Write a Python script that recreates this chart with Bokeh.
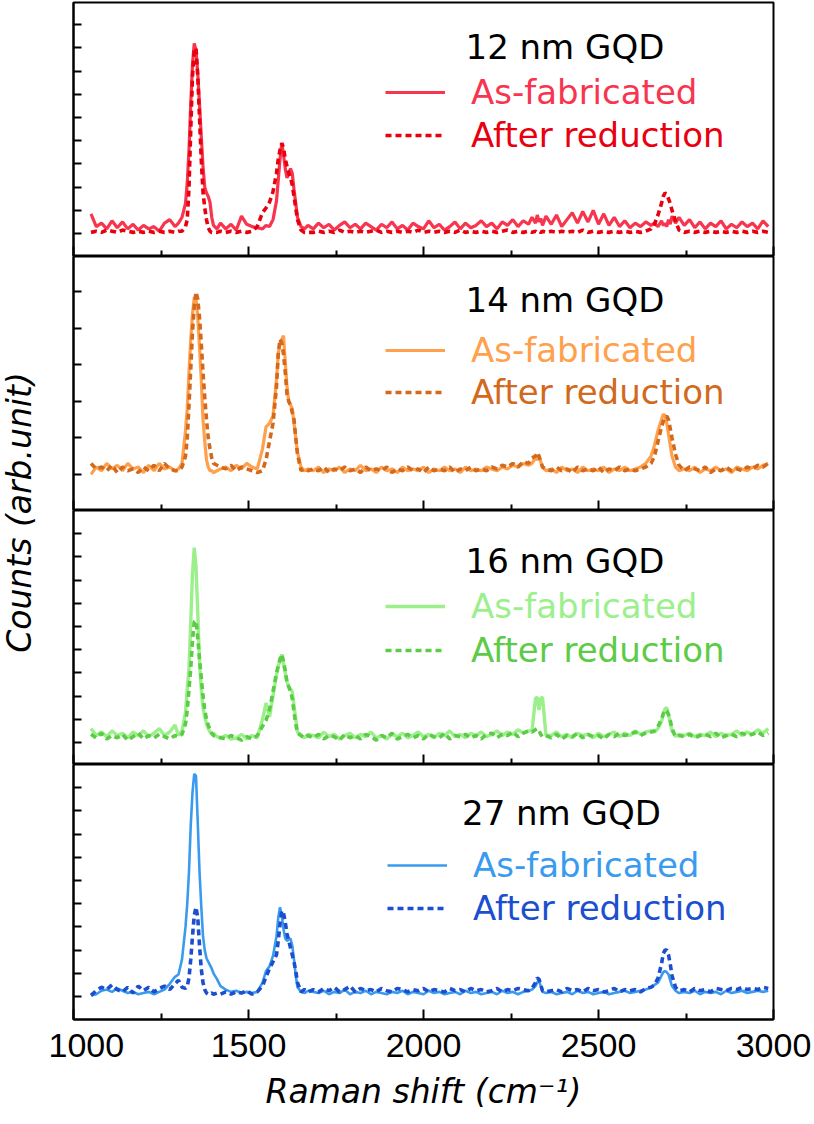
import math
from bokeh.plotting import figure
from bokeh.models import (Range1d, FixedTicker, Label, Legend, LegendItem, ColumnDataSource,
                          CustomLabelingPolicy)
from bokeh.layouts import row, column
from bokeh.embed import file_html
from bokeh.resources import INLINE

# ---------------- data ----------------
raman_shift = [
    1050, 1065, 1080, 1095, 1110, 1125, 1140, 1155, 1170, 1185, 1200, 1215, 1230, 1245, 1260, 1275, 1290,
    1300, 1310, 1320, 1325, 1330, 1335, 1340, 1345, 1350, 1355, 1360, 1365, 1370, 1375, 1380, 1385, 1390, 1395, 1400, 1410, 1420,
    1435, 1450, 1465, 1480, 1495, 1510, 1525,
    1540, 1550, 1560, 1570, 1580, 1585, 1590, 1595, 1600, 1605, 1610, 1615, 1620, 1625, 1630, 1635, 1640, 1650, 1660, 1670,
    1685, 1700, 1715, 1730, 1745, 1760, 1775, 1790, 1805, 1820, 1835, 1850, 1865, 1880, 1895, 1910, 1925, 1940, 1955, 1970, 1985,
    2000, 2015, 2030, 2045, 2060, 2075, 2090, 2105, 2120, 2135, 2150, 2165, 2180, 2195, 2210, 2225, 2240, 2255, 2270, 2285, 2300,
    2310, 2320, 2325, 2330, 2335, 2340, 2350,
    2365, 2380, 2395, 2410, 2425, 2440, 2455, 2470, 2485, 2500, 2515, 2530, 2545, 2560, 2575, 2590, 2605, 2620, 2635, 2650,
    2660, 2670, 2680, 2685, 2690, 2695, 2700, 2705, 2710, 2720, 2730,
    2745, 2760, 2775, 2790, 2805, 2820, 2835, 2850, 2865, 2880, 2895, 2910, 2925, 2940, 2955, 2970, 2985,
]

gqd12_as_fabricated = [
    0.85, 0.3, 0.45, 0.2, 0.55, 0.25, 0.5, 0.2, 0.4, 0.15, 0.35, 0.2, 0.3, 0.1, 0.45, 0.6, 0.3,
    0.45, 0.7, 1.3, 2.2, 3.6, 5.6, 7.3, 8.2, 7.9, 6.9, 5.6, 4.2, 2.9, 2.0, 1.75, 1.6, 1.35, 0.7, 0.35, 0.2, 0.45,
    0.2, 0.4, 0.15, 0.75, 0.4, 0.3, 0.25,
    0.2, 0.35, 0.3, 0.6, 1.4, 2.3, 3.2, 3.9, 3.4, 2.8, 2.4, 2.6, 2.8, 2.6, 1.9, 1.3, 0.7, 0.3, 0.2, 0.35,
    0.2, 0.45, 0.25, 0.4, 0.15, 0.35, 0.5, 0.25, 0.4, 0.2, 0.45, 0.3, 0.15, 0.4, 0.25, 0.5, 0.2, 0.35, 0.15, 0.45, 0.3,
    0.2, 0.55, 0.25, 0.4, 0.15, 0.3, 0.5, 0.2, 0.45, 0.25, 0.35, 0.55, 0.3, 0.45, 0.2, 0.5, 0.35, 0.6, 0.3, 0.55, 0.4,
    0.7, 0.45, 0.8, 0.5, 0.65, 0.35, 0.75,
    0.4, 0.8, 0.3, 0.6, 0.9, 0.45, 0.95, 0.5, 1.0, 0.4, 0.85, 0.35, 0.7, 0.3, 0.55, 0.25, 0.45, 0.3, 0.5, 0.35,
    0.45, 0.3, 0.55, 0.35, 0.45, 0.3, 0.6, 0.4, 0.75, 0.45, 0.7,
    0.35, 0.6, 0.25, 0.5, 0.2, 0.45, 0.3, 0.55, 0.2, 0.4, 0.25, 0.5, 0.3, 0.45, 0.2, 0.55, 0.3,
]
gqd12_after_reduction = [
    0.05, 0.1, 0.05, 0.15, 0.1, 0.05, 0.15, 0.1, 0.05, 0.1, 0.05, 0.1, 0.05, 0.1, 0.05, 0.1, 0.05,
    0.1, 0.1, 0.3, 0.6, 2.0, 4.5, 6.8, 7.9, 8.0, 6.8, 5.0, 3.2, 1.8, 1.1, 0.6, 0.25, 0.1, 0.05, 0.05, 0.05, 0.1,
    0.05, 0.1, 0.05, 0.1, 0.05, 0.1, 0.3,
    0.9, 1.1, 1.35, 1.8, 2.6, 3.2, 3.6, 3.9, 3.7, 3.2, 2.9, 2.6, 2.4, 2.1, 1.6, 1.1, 0.6, 0.15, 0.05, 0.05,
    0.05, 0.1, 0.05, 0.1, 0.05, 0.15, 0.05, 0.1, 0.05, 0.1, 0.05, 0.1, 0.15, 0.05, 0.1, 0.05, 0.1, 0.05, 0.1, 0.05, 0.15,
    0.05, 0.1, 0.05, 0.1, 0.05, 0.1, 0.05, 0.15, 0.05, 0.1, 0.05, 0.1, 0.05, 0.1, 0.05, 0.1, 0.15, 0.05, 0.1, 0.05, 0.1,
    0.05, 0.1, 0.05, 0.1, 0.05, 0.1, 0.05,
    0.1, 0.05, 0.1, 0.05, 0.1, 0.05, 0.15, 0.05, 0.1, 0.05, 0.1, 0.05, 0.1, 0.05, 0.1, 0.05, 0.1, 0.05, 0.1, 0.2,
    0.4, 0.8, 1.3, 1.6, 1.75, 1.7, 1.5, 1.3, 1.0, 0.55, 0.15,
    0.05, 0.1, 0.05, 0.1, 0.05, 0.1, 0.05, 0.1, 0.05, 0.1, 0.05, 0.1, 0.05, 0.1, 0.05, 0.1, 0.05,
]

gqd14_as_fabricated = [
    0.0, 0.2, 0.1, 0.3, 0.15, 0.25, 0.1, 0.3, 0.15, 0.2, 0.05, 0.25, 0.1, 0.3, 0.15, 0.2, 0.1,
    0.15, 0.3, 1.2, 1.8, 2.8, 3.7, 4.4, 4.85, 4.8, 4.3, 3.5, 2.6, 1.5, 0.9, 0.4, 0.2, 0.1, 0.1, 0.05, 0.1, 0.15,
    0.2, 0.1, 0.25, 0.15, 0.3, 0.2, 0.15,
    0.7, 1.3, 1.4, 1.6, 2.6, 3.3, 3.6, 3.7, 3.8, 3.1, 2.4, 2.0, 1.9, 1.8, 1.4, 1.0, 0.6, 0.2, 0.1, 0.15,
    0.1, 0.2, 0.05, 0.15, 0.1, 0.2, 0.05, 0.15, 0.1, 0.25, 0.1, 0.15, 0.05, 0.2, 0.1, 0.15, 0.05, 0.2, 0.1, 0.15, 0.1,
    0.2, 0.05, 0.15, 0.1, 0.2, 0.1, 0.15, 0.05, 0.2, 0.1, 0.15, 0.1, 0.2, 0.15, 0.1, 0.2, 0.15, 0.25, 0.2, 0.3, 0.25,
    0.3, 0.45, 0.4, 0.5, 0.35, 0.2, 0.1,
    0.15, 0.05, 0.2, 0.1, 0.15, 0.05, 0.2, 0.1, 0.15, 0.1, 0.2, 0.05, 0.15, 0.1, 0.2, 0.1, 0.15, 0.2, 0.3, 0.5,
    0.8, 1.2, 1.5, 1.65, 1.6, 1.4, 1.1, 0.8, 0.5, 0.2, 0.1,
    0.15, 0.1, 0.2, 0.05, 0.15, 0.1, 0.2, 0.1, 0.15, 0.05, 0.2, 0.15, 0.1, 0.2, 0.15, 0.25, 0.3,
]
gqd14_after_reduction = [
    0.3, 0.15, 0.2, 0.1, 0.25, 0.05, 0.2, 0.1, 0.15, 0.05, 0.2, 0.1, 0.25, 0.1, 0.3, 0.15, 0.1,
    0.1, 0.2, 0.5, 1.0, 1.9, 2.9, 3.9, 4.6, 5.0, 4.8, 4.3, 3.6, 2.8, 2.1, 1.5, 1.0, 0.7, 0.45, 0.3, 0.25, 0.2,
    0.15, 0.25, 0.1, 0.2, 0.15, 0.1, 0.05,
    0.1, 0.4, 0.9, 1.4, 2.4, 3.3, 3.7, 3.6, 3.3, 2.8, 2.2, 2.0, 1.9, 1.7, 1.5, 1.0, 0.55, 0.1, 0.15, 0.1,
    0.15, 0.1, 0.2, 0.05, 0.15, 0.1, 0.2, 0.1, 0.15, 0.05, 0.2, 0.1, 0.15, 0.1, 0.2, 0.05, 0.15, 0.1, 0.2, 0.1, 0.15,
    0.05, 0.2, 0.1, 0.15, 0.1, 0.2, 0.05, 0.15, 0.1, 0.2, 0.1, 0.15, 0.1, 0.2, 0.15, 0.25, 0.2, 0.3, 0.2, 0.35, 0.3,
    0.45, 0.5, 0.6, 0.5, 0.35, 0.2, 0.15,
    0.1, 0.2, 0.1, 0.15, 0.05, 0.2, 0.1, 0.15, 0.1, 0.2, 0.05, 0.15, 0.1, 0.2, 0.1, 0.15, 0.1, 0.15, 0.2, 0.3,
    0.5, 0.9, 1.3, 1.45, 1.55, 1.6, 1.5, 1.25, 1.0, 0.55, 0.25,
    0.1, 0.2, 0.15, 0.1, 0.2, 0.05, 0.15, 0.1, 0.2, 0.1, 0.15, 0.1, 0.2, 0.15, 0.25, 0.2, 0.3,
]

gqd16_as_fabricated = [
    0.6, 0.3, 0.45, 0.25, 0.5, 0.3, 0.4, 0.2, 0.45, 0.3, 0.5, 0.25, 0.4, 0.6, 0.3, 0.45, 0.75,
    0.3, 0.5, 1.3, 2.3, 3.2, 5.2, 7.3, 8.4, 7.6, 5.6, 3.5, 2.3, 1.5, 1.1, 0.8, 0.6, 0.45, 0.35, 0.4, 0.25, 0.2,
    0.3, 0.15, 0.2, 0.35, 0.15, 0.3, 0.2,
    1.0, 1.7, 1.1, 2.0, 2.9, 3.3, 3.5, 3.8, 3.4, 3.0, 2.6, 2.4, 2.3, 2.2, 1.6, 1.0, 0.45, 0.3, 0.2, 0.35,
    0.3, 0.2, 0.45, 0.25, 0.35, 0.15, 0.3, 0.4, 0.2, 0.35, 0.25, 0.45, 0.2, 0.3, 0.15, 0.35, 0.25, 0.4, 0.2, 0.3, 0.45,
    0.25, 0.35, 0.2, 0.4, 0.3, 0.5, 0.25, 0.35, 0.2, 0.4, 0.3, 0.45, 0.25, 0.35, 0.5, 0.3, 0.45, 0.35, 0.55, 0.4, 0.5,
    0.5, 1.9, 1.95, 1.4, 1.9, 1.95, 0.3,
    0.3, 0.45, 0.25, 0.35, 0.2, 0.4, 0.3, 0.35, 0.2, 0.4, 0.25, 0.35, 0.45, 0.25, 0.4, 0.3, 0.5, 0.35, 0.45, 0.5,
    0.45, 0.6, 0.9, 1.2, 1.45, 1.5, 1.2, 0.85, 0.5, 0.25, 0.35,
    0.3, 0.4, 0.25, 0.35, 0.3, 0.45, 0.25, 0.4, 0.3, 0.35, 0.5, 0.3, 0.45, 0.35, 0.55, 0.4, 0.6,
]
gqd16_after_reduction = [
    0.35, 0.2, 0.4, 0.15, 0.3, 0.2, 0.35, 0.1, 0.25, 0.4, 0.15, 0.3, 0.2, 0.35, 0.25, 0.15, 0.3,
    0.25, 0.35, 0.8, 1.4, 2.3, 3.2, 4.4, 5.2, 5.25, 4.5, 3.6, 2.8, 2.0, 1.4, 1.0, 0.75, 0.55, 0.4, 0.3, 0.25, 0.2,
    0.15, 0.3, 0.2, 0.1, 0.25, 0.15, 0.3,
    0.7, 0.95, 1.4, 2.2, 3.0, 3.3, 3.6, 3.8, 3.5, 3.1, 2.6, 2.4, 2.2, 1.9, 1.3, 0.8, 0.4, 0.3, 0.2, 0.3,
    0.2, 0.35, 0.15, 0.3, 0.25, 0.1, 0.35, 0.2, 0.3, 0.15, 0.35, 0.25, 0.1, 0.3, 0.2, 0.4, 0.15, 0.25, 0.35, 0.2, 0.3,
    0.15, 0.35, 0.25, 0.2, 0.4, 0.15, 0.3, 0.25, 0.35, 0.2, 0.3, 0.15, 0.35, 0.4, 0.2, 0.35, 0.3, 0.45, 0.25, 0.4, 0.5,
    0.45, 0.55, 0.6, 0.5, 0.35, 0.25, 0.3,
    0.2, 0.35, 0.15, 0.3, 0.25, 0.4, 0.2, 0.35, 0.25, 0.3, 0.15, 0.35, 0.25, 0.4, 0.3, 0.35, 0.45, 0.3, 0.4, 0.45,
    0.5, 0.7, 1.0, 1.25, 1.4, 1.35, 1.2, 0.95, 0.6, 0.25, 0.3,
    0.25, 0.35, 0.2, 0.3, 0.35, 0.25, 0.4, 0.2, 0.3, 0.35, 0.25, 0.4, 0.3, 0.35, 0.45, 0.3, 0.4,
]

gqd27_as_fabricated = [
    0.05, 0.1, 0.25, 0.3, 0.2, 0.35, 0.25, 0.15, 0.2, 0.1, 0.15, 0.2, 0.1, 0.2, 0.3, 0.55, 0.85,
    0.95, 1.6, 3.0, 4.0, 5.4, 7.4, 8.8, 9.6, 9.5, 7.5, 5.4, 3.9, 2.6, 2.0, 1.65, 1.5, 1.35, 1.2, 1.0, 0.75, 0.45,
    0.3, 0.2, 0.25, 0.15, 0.2, 0.15, 0.2,
    0.6, 1.1, 1.3, 1.75, 2.6, 3.4, 3.85, 3.5, 2.9, 2.5, 2.4, 2.45, 2.5, 2.2, 1.6, 0.9, 0.4, 0.2, 0.15, 0.25,
    0.2, 0.15, 0.25, 0.1, 0.2, 0.15, 0.3, 0.1, 0.2, 0.15, 0.25, 0.1, 0.2, 0.15, 0.1, 0.2, 0.15, 0.25, 0.1, 0.2, 0.15,
    0.1, 0.25, 0.15, 0.2, 0.1, 0.15, 0.2, 0.1, 0.25, 0.15, 0.2, 0.1, 0.15, 0.2, 0.1, 0.25, 0.15, 0.2, 0.1, 0.2, 0.25,
    0.3, 0.45, 0.6, 0.7, 0.45, 0.2, 0.15,
    0.2, 0.1, 0.15, 0.2, 0.1, 0.25, 0.15, 0.2, 0.1, 0.15, 0.2, 0.1, 0.15, 0.2, 0.25, 0.15, 0.2, 0.25, 0.3, 0.4,
    0.5, 0.6, 0.9, 1.05, 1.1, 1.05, 0.95, 0.7, 0.45, 0.25, 0.15,
    0.2, 0.15, 0.25, 0.1, 0.2, 0.15, 0.2, 0.1, 0.25, 0.15, 0.2, 0.25, 0.15, 0.2, 0.25, 0.2, 0.25,
]
gqd27_after_reduction = [
    0.05, 0.25, 0.4, 0.3, 0.5, 0.3, 0.2, 0.4, 0.15, 0.45, 0.25, 0.4, 0.2, 0.35, 0.45, 0.3, 0.55,
    0.7, 0.4, 0.35, 0.45, 0.8, 1.6, 2.6, 3.5, 3.85, 3.4, 2.2, 1.2, 0.6, 0.3, 0.15, 0.1, 0.1, 0.15, 0.1, 0.15, 0.1,
    0.2, 0.1, 0.2, 0.15, 0.25, 0.1, 0.2,
    0.45, 0.85, 1.2, 1.5, 1.8, 2.4, 3.1, 3.7, 3.6, 3.2, 2.7, 2.4, 2.1, 1.8, 1.5, 1.1, 0.6, 0.2, 0.3, 0.2,
    0.3, 0.2, 0.35, 0.25, 0.4, 0.2, 0.3, 0.45, 0.2, 0.35, 0.25, 0.3, 0.2, 0.35, 0.25, 0.2, 0.35, 0.3, 0.2, 0.3, 0.25,
    0.35, 0.2, 0.3, 0.25, 0.2, 0.35, 0.25, 0.3, 0.2, 0.35, 0.25, 0.3, 0.2, 0.25, 0.35, 0.2, 0.3, 0.25, 0.35, 0.3, 0.25,
    0.35, 0.6, 0.8, 0.75, 0.5, 0.25, 0.2,
    0.25, 0.3, 0.2, 0.35, 0.25, 0.3, 0.2, 0.35, 0.25, 0.3, 0.2, 0.25, 0.35, 0.2, 0.3, 0.25, 0.3, 0.2, 0.35, 0.4,
    0.5, 0.8, 1.4, 1.85, 2.0, 2.0, 1.8, 1.4, 0.9, 0.4, 0.25,
    0.3, 0.2, 0.35, 0.25, 0.3, 0.2, 0.35, 0.3, 0.25, 0.35, 0.3, 0.4, 0.3, 0.35, 0.3, 0.4, 0.35,
]

panel_titles = ["12 nm GQD", "14 nm GQD", "16 nm GQD", "27 nm GQD"]
series_labels = ["As-fabricated", "After reduction"]
x_ticks = [1000, 1500, 2000, 2500, 3000]
x_minor_ticks = [1250, 1750, 2250, 2750]
x_title = "Raman shift (cm\u207b\u00b9)"
y_title = "Counts (arb.unit)"

spectra = [
    (gqd12_as_fabricated, gqd12_after_reduction),
    (gqd14_as_fabricated, gqd14_after_reduction),
    (gqd16_as_fabricated, gqd16_after_reduction),
    (gqd27_as_fabricated, gqd27_after_reduction),
]
for a, b in spectra:
    assert len(a) == len(raman_shift) and len(b) == len(raman_shift), (len(a), len(b))

# ---------------- styles / layout ----------------
colors = [("#F8354F", "#E8000E"), ("#FFA04C", "#D2691C"), ("#9CF08C", "#5CCB46"), ("#3A9BEE", "#1B4FCF")]
solid_widths = [3.2, 3.2, 3.4, 2.6]
y_ranges = [(-0.99, 9.96), (-0.99, 5.97), (-0.95, 10.0), (-0.99, 10.0)]
y_tick_counts = [10, 6, 10, 10]
fig_heights = [256, 254, 254, 360]
borders_tb = [(2, 0), (0, 0), (0, 0), (0, 105)]
# y (data units) for: title middle, solid legend line, dashed legend line
legend_y = [(8.06, 6.0, 4.15), (4.77, 3.35, 2.19), (7.84, 5.78, 3.88), (7.93, 5.57, 3.7)]
title_x = [2120, 2120, 2120, 2110]
legend_x = [312, 312, 312, 314]

TXT_FONT = "DejaVu Sans"
TXT_SIZE = "34px"
ITEM_H = 36

hide_labels = CustomLabelingPolicy(code="""
for (const i of indices) { indices.unset(i) }
return indices
""")

panels = []
for i in range(4):
    lo, hi = y_ranges[i]
    top, bottom = borders_tb[i]
    H = fig_heights[i] - top - bottom
    p = figure(width=763, height=fig_heights[i], x_range=Range1d(1000, 3000), y_range=Range1d(lo, hi),
               output_backend="svg", toolbar_location=None,
               min_border_left=25, min_border_right=38, min_border_top=top, min_border_bottom=bottom)
    p.grid.visible = False
    p.outline_line_color = "black"
    p.outline_line_width = 2
    p.background_fill_color = "white"
    p.border_fill_color = "white"

    xa = p.xaxis[0]
    xa.ticker = FixedTicker(ticks=x_ticks, minor_ticks=x_minor_ticks)
    xa.major_tick_in = 10
    xa.major_tick_out = 0
    xa.minor_tick_in = 6
    xa.minor_tick_out = 0
    xa.major_tick_line_width = 2
    xa.minor_tick_line_width = 2
    xa.axis_line_width = 2
    if i < 3:
        xa.major_label_text_font_size = "0px"
        xa.major_label_standoff = 0
        xa.major_label_policy = hide_labels
    else:
        xa.major_label_text_font = "Liberation Sans"
        xa.major_label_text_font_size = "34px"
        xa.major_label_text_color = "black"
        xa.major_label_standoff = 14
        xa.axis_label = x_title
        xa.axis_label_text_font = TXT_FONT
        xa.axis_label_text_font_size = "33px"
        xa.axis_label_text_font_style = "italic"
        xa.axis_label_text_color = "black"
        xa.axis_label_standoff = 12

    ya = p.yaxis[0]
    ya.ticker = FixedTicker(ticks=list(range(y_tick_counts[i])))
    ya.major_label_text_font_size = "0px"
    ya.major_label_standoff = 0
    ya.major_label_policy = hide_labels
    ya.major_tick_in = 8
    ya.major_tick_out = 0
    ya.minor_tick_in = 0
    ya.minor_tick_out = 0
    ya.major_tick_line_width = 2
    ya.axis_line_width = 2

    c_solid, c_dash = colors[i]
    as_fab, reduced = spectra[i]
    src = ColumnDataSource(dict(x=raman_shift, a=as_fab, r=reduced))
    r_solid = p.line("x", "a", source=src, line_color=c_solid, line_width=solid_widths[i])
    r_dash = p.line("x", "r", source=src, line_color=c_dash, line_width=3.6, line_dash="6 4")

    ty, sy, dy = legend_y[i]
    p.add_layout(Label(x=title_x[i], y=ty, text=panel_titles[i], text_font=TXT_FONT, text_font_size=TXT_SIZE,
                       text_color="black", text_baseline="middle", text_align="left"))

    def scr(d):
        return (d - lo) / (hi - lo) * H

    for rend, lab, col, yd in [(r_solid, series_labels[0], c_solid, sy), (r_dash, series_labels[1], c_dash, dy)]:
        lg = Legend(items=[LegendItem(label=lab, renderers=[rend])],
                    location=(legend_x[i], scr(yd) - ITEM_H / 2),
                    glyph_width=60, glyph_height=ITEM_H, label_height=ITEM_H,
                    label_standoff=26, padding=0, margin=0, spacing=0,
                    label_text_font=TXT_FONT, label_text_font_size=TXT_SIZE, label_text_color=col,
                    border_line_color=None, background_fill_alpha=0)
        p.add_layout(lg, "center")
    panels.append(p)

total_h = sum(fig_heights)
side = figure(width=48, height=total_h, x_range=Range1d(0, 1), y_range=Range1d(0, 1),
              output_backend="svg", toolbar_location=None, min_border=0)
side.axis.visible = False
side.grid.visible = False
side.outline_line_color = None
side.add_layout(Label(x=19, y=total_h - 512, x_units="screen", y_units="screen", text=y_title,
                      angle=math.pi / 2, text_align="center", text_baseline="middle",
                      text_font=TXT_FONT, text_font_size="33px", text_font_style="italic", text_color="black"))

layout = row(side, column(*panels, spacing=0), spacing=0)
open("out.html", "w").write(file_html(layout, INLINE))
